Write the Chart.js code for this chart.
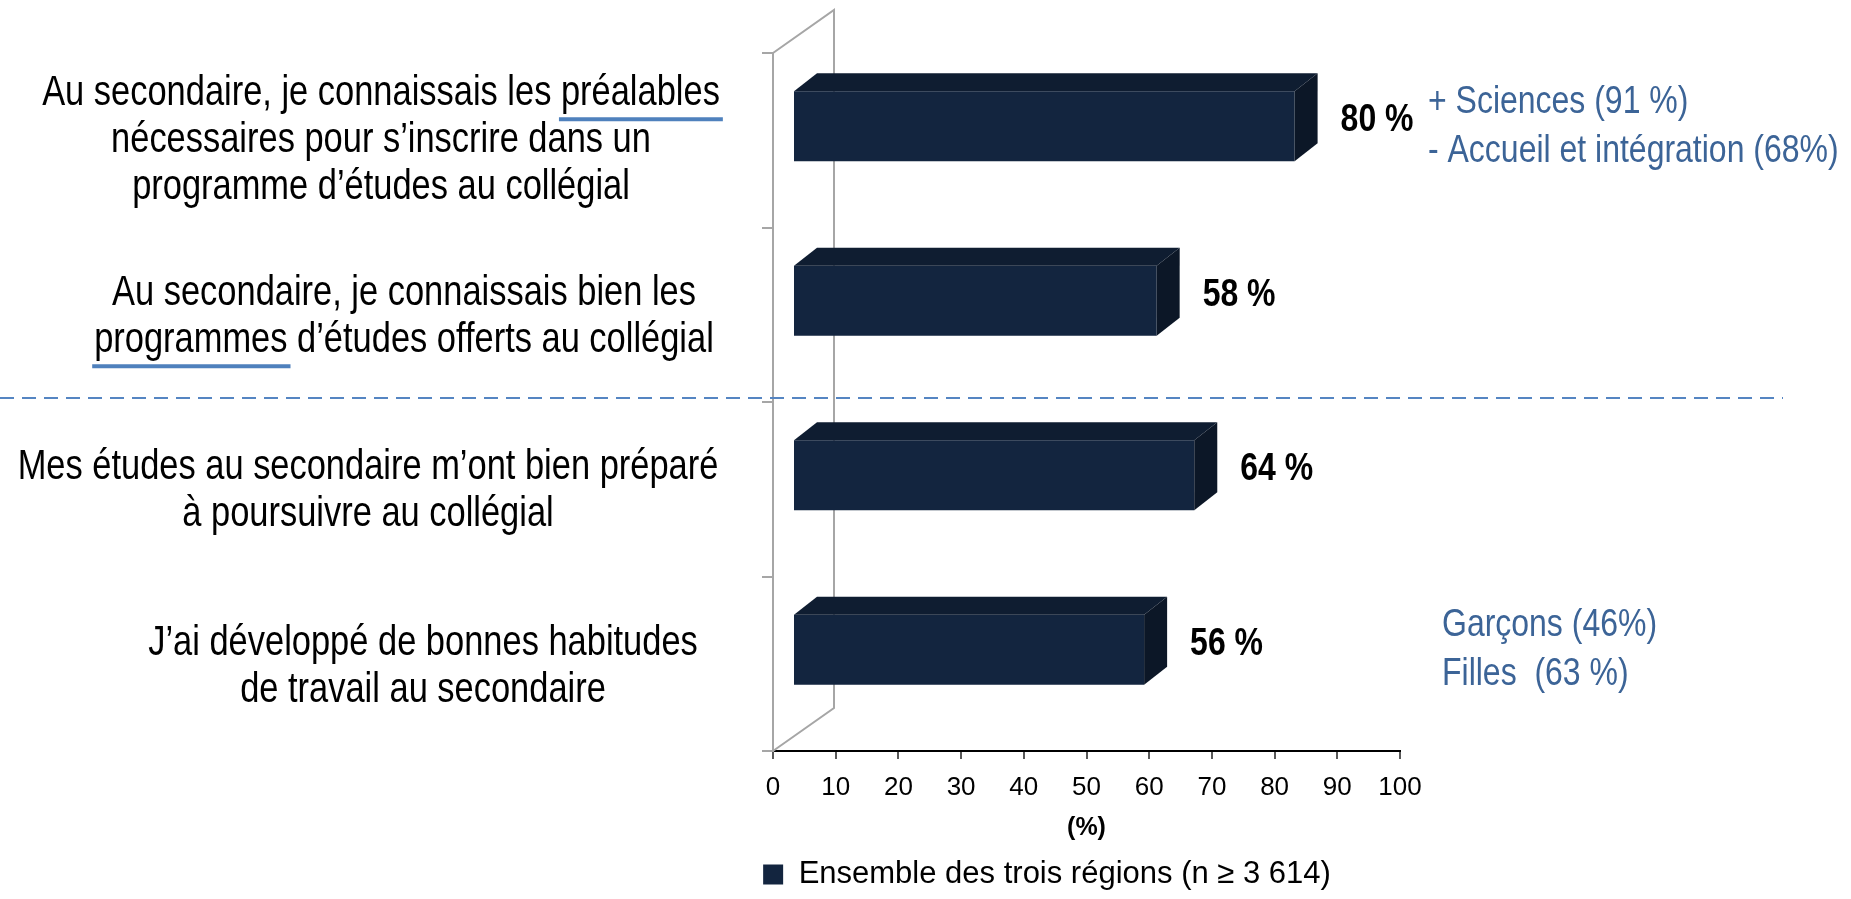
<!DOCTYPE html>
<html>
<head>
<meta charset="utf-8">
<script src="https://cdn.jsdelivr.net/npm/chart.js@4.4.1/dist/chart.umd.min.js"></script>
<style>
  html, body { margin: 0; padding: 0; background: #fff; }
  #wrap { width: 1851px; height: 899px; }
</style>
</head>
<body>
<div id="wrap"><canvas id="myChart" width="1851" height="899"></canvas></div>
<script>
const categories = [
  ["Au secondaire, je connaissais les préalables", "nécessaires pour s’inscrire dans un", "programme d’études au collégial"],
  ["Au secondaire, je connaissais bien les", "programmes d’études offerts au collégial"],
  ["Mes études au secondaire m’ont bien préparé", "à poursuivre au collégial"],
  ["J’ai développé de bonnes habitudes", "de travail au secondaire"],
];
const values = [80, 58, 64, 56];
const valueLabels = ["80 %", "58 %", "64 %", "56 %"];
const seriesName = "Ensemble des trois régions (n ≥ 3 614)";
const axisTitle = "(%)";
const notes = [
  ["+ Sciences (91 %)", "- Accueil et intégration (68%)"],
  [],
  [],
  ["Garçons (46%)", "Filles  (63 %)"],
];
// [category, line, word] underlined in blue
const underlinedWords = [
  [0, 0, "préalables"],
  [1, 1, "programmes"],
];

const SANS = '"Liberation Sans", Arial, sans-serif';
const SQUEEZE = 0.82; // imitate Arial Narrow
const navy = "#13253f";
const topColor = "#0f1d31";
const sideColor = "#0c1727";
const wallColor = "#a6a6a6";
const noteColor = "#3c6497";
const lineBlue = "#4f81bd";

// 3D look
const WALL = { dx: 61, dy: -43 };
const BAR_SHIFT = { dx: 20, dy: -14 };
const BAR_DEPTH = { dx: 23, dy: -18 };

// label placement (x centre, y nudge)
const labelLayout = [
  { x: 381, dy: 0 },
  { x: 404, dy: 2 },
  { x: 368, dy: 2 },
  { x: 423, dy: 3 },
];
const noteX = [1428, 0, 0, 1442];

function narrowText(ctx, txt, x, y, align) {
  ctx.save();
  ctx.translate(x, y);
  ctx.scale(SQUEEZE, 1);
  ctx.textAlign = align;
  ctx.fillText(txt, 0, 0);
  ctx.restore();
}

const chartDecor = {
  id: "chartDecor",
  beforeDatasetsDraw(chart) {
    const { ctx, chartArea: a } = chart;
    ctx.save();
    ctx.strokeStyle = wallColor;
    ctx.lineWidth = 2;
    ctx.beginPath();
    ctx.moveTo(a.left, a.top);
    ctx.lineTo(a.left + WALL.dx, a.top + WALL.dy);
    ctx.lineTo(a.left + WALL.dx, a.bottom + WALL.dy);
    ctx.lineTo(a.left, a.bottom);
    ctx.stroke();
    ctx.restore();
    ctx.save();
    ctx.translate(BAR_SHIFT.dx, BAR_SHIFT.dy);
  },
  afterDatasetsDraw(chart) {
    const { ctx } = chart;
    const meta = chart.getDatasetMeta(0);
    meta.data.forEach((bar) => {
      const { x, y, base, height } = bar.getProps(["x", "y", "base", "height"], true);
      const t = y - height / 2;
      const b = y + height / 2;
      ctx.fillStyle = topColor;
      ctx.beginPath();
      ctx.moveTo(base, t);
      ctx.lineTo(base + BAR_DEPTH.dx, t + BAR_DEPTH.dy);
      ctx.lineTo(x + BAR_DEPTH.dx, t + BAR_DEPTH.dy);
      ctx.lineTo(x, t);
      ctx.closePath();
      ctx.fill();
      ctx.fillStyle = sideColor;
      ctx.beginPath();
      ctx.moveTo(x, t);
      ctx.lineTo(x + BAR_DEPTH.dx, t + BAR_DEPTH.dy);
      ctx.lineTo(x + BAR_DEPTH.dx, b + BAR_DEPTH.dy);
      ctx.lineTo(x, b);
      ctx.closePath();
      ctx.fill();
    });
    ctx.restore();

    // value labels
    ctx.save();
    ctx.font = "bold 39px " + SANS;
    ctx.fillStyle = "#000";
    ctx.textBaseline = "middle";
    meta.data.forEach((bar, i) => {
      const { x, y } = bar.getProps(["x", "y"], true);
      narrowText(ctx, valueLabels[i], x + BAR_SHIFT.dx + BAR_DEPTH.dx + 23, y + BAR_SHIFT.dy + BAR_DEPTH.dy / 2 + 3, "left");
    });
    ctx.restore();
  },
  afterDraw(chart) {
    const { ctx } = chart;
    const yScale = chart.scales.y;
    ctx.save();

    // category labels
    const lh = 47;
    ctx.font = "42px " + SANS;
    ctx.fillStyle = "#000";
    ctx.textBaseline = "middle";
    const lineY = (ci, li) => {
      const n = categories[ci].length;
      return yScale.getPixelForValue(ci) + labelLayout[ci].dy + (li - (n - 1) / 2) * lh;
    };
    categories.forEach((lines, i) => {
      lines.forEach((txt, j) => narrowText(ctx, txt, labelLayout[i].x, lineY(i, j), "center"));
    });

    // underlines
    ctx.strokeStyle = lineBlue;
    ctx.lineWidth = 4;
    underlinedWords.forEach(([ci, li, word]) => {
      const txt = categories[ci][li];
      const full = ctx.measureText(txt).width * SQUEEZE;
      const start = labelLayout[ci].x - full / 2 + ctx.measureText(txt.slice(0, txt.indexOf(word))).width * SQUEEZE;
      const w = ctx.measureText(word).width * SQUEEZE;
      const uy = lineY(ci, li) + 26;
      ctx.beginPath();
      ctx.moveTo(start - 2, uy);
      ctx.lineTo(start + w + 3, uy);
      ctx.stroke();
    });

    // dashed separator between the two groups
    const sepY = (yScale.getPixelForValue(1) + yScale.getPixelForValue(2)) / 2 - 4;
    ctx.setLineDash([14, 8]);
    ctx.strokeStyle = "#5585c2";
    ctx.lineWidth = 2;
    ctx.beginPath();
    ctx.moveTo(0, sepY);
    ctx.lineTo(1783, sepY);
    ctx.stroke();
    ctx.setLineDash([]);

    // side notes
    ctx.font = "39px " + SANS;
    ctx.fillStyle = noteColor;
    notes.forEach((lines, i) => {
      if (!lines.length) return;
      const cy = yScale.getPixelForValue(i) + BAR_SHIFT.dy;
      lines.forEach((txt, j) => {
        narrowText(ctx, txt, noteX[i], cy + (j - (lines.length - 1) / 2) * 49, "left");
      });
    });
    ctx.restore();
  },
};

const chart = new Chart(document.getElementById("myChart"), {
  type: "bar",
  plugins: [chartDecor],
  data: {
    labels: categories,
    datasets: [
      {
        label: seriesName,
        data: values,
        backgroundColor: navy,
        borderWidth: 0,
        categoryPercentage: 1,
        barPercentage: 0.4,
        clip: false,
      },
    ],
  },
  options: {
    indexAxis: "y",
    responsive: false,
    animation: false,
    layout: { padding: { left: 694, right: 451, top: 53, bottom: 0 } },
    scales: {
      x: {
        min: 0,
        max: 100,
        ticks: { stepSize: 10, color: "#000", padding: 13, font: { family: SANS, size: 26 } },
        grid: { drawOnChartArea: false, tickLength: 8, color: "#595959", lineWidth: 2 },
        border: { color: "#000", width: 2 },
        title: {
          display: true,
          text: axisTitle,
          color: "#000",
          font: { family: SANS, size: 25, weight: "bold" },
          padding: { top: 0, bottom: 16 },
        },
        afterFit(scale) { scale.height = 108; },
      },
      y: {
        ticks: { display: false },
        grid: { offset: true, drawOnChartArea: false, tickLength: 11, color: wallColor, lineWidth: 2 },
        border: { color: wallColor, width: 2 },
        afterFit(scale) { scale.width = 79; },
      },
    },
    plugins: {
      legend: {
        position: "bottom",
        maxHeight: 40,
        labels: {
          color: "#000",
          boxWidth: 20,
          boxHeight: 20,
          padding: 0,
          font: { family: SANS, size: 31 },
        },
      },
      tooltip: { enabled: false },
    },
  },
});
</script>
</body>
</html>
